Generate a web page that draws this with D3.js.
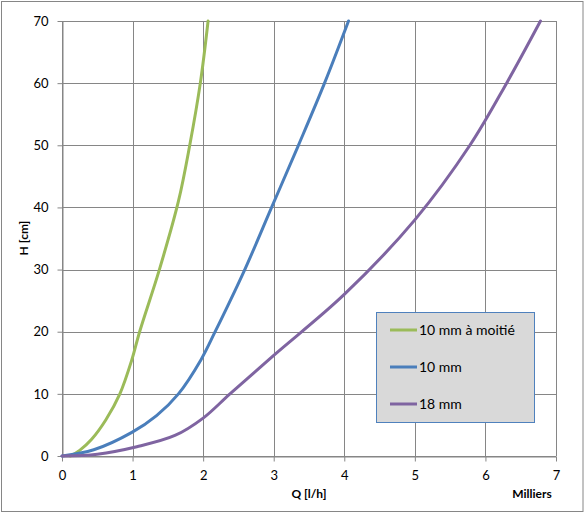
<!DOCTYPE html>
<html>
<head>
<meta charset="utf-8">
<script src="https://cdn.jsdelivr.net/npm/d3@7"></script>
<style>
  body { margin: 0; background: #fff; }
  text { font-family: Lato, "Open Sans", sans-serif; fill: #000; }
</style>
</head>
<body>
<div class="chart"></div>
<script>
// Q in milliers de l/h, H in cm
var seriesNames = ['10 mm à moitié', '10 mm', '18 mm'];
var seriesColors = ['#9bbb59', '#4a7ebb', '#7f64a1'];

var halfQ = [0.12, 0.25, 0.42, 0.62, 0.82, 0.99, 1.1, 1.38, 1.65, 1.81, 1.96, 2.07];
var halfH = [0, 0.9, 2.7, 5.8, 10, 15.5, 20, 30, 41, 50, 60, 70];

var tenQ = [0, 0.45, 0.99, 1.34, 1.65, 1.97, 2.17, 2.59, 2.97, 3.35, 3.72, 4.06];
var tenH = [0, 1, 3.8, 6.5, 10, 15.5, 20, 30, 40, 50, 60, 70];

var eighteenQ = [0, 0.5, 1.06, 1.6, 2.0, 2.38, 3.0, 4.0, 5.0, 5.78, 6.3, 6.78];
var eighteenH = [0, 0.3, 1.5, 3.3, 6.1, 10, 16.2, 26, 38, 50, 60, 70];

var xTicks = [0, 1, 2, 3, 4, 5, 6, 7];
var yTicks = [0, 10, 20, 30, 40, 50, 60, 70];

var width = 588, height = 514;
var plot = { left: 62, right: 556, top: 21, bottom: 456 };

var svg = d3.select('.chart').append('svg')
  .attr('width', width)
  .attr('height', height);

// outer frame
svg.append('rect')
  .attr('x', 1.5).attr('y', 1.5)
  .attr('width', 581.5).attr('height', 510)
  .attr('fill', '#fff')
  .attr('stroke', '#868686');

var x = d3.scaleLinear().domain([0, 7]).range([plot.left, plot.right]);
var y = d3.scaleLinear().domain([0, 70]).range([plot.bottom, plot.top]);

// grid
svg.append('g').selectAll('line').data(xTicks).join('line')
  .attr('x1', d => Math.round(x(d)) + 0.5).attr('x2', d => Math.round(x(d)) + 0.5)
  .attr('y1', plot.top).attr('y2', plot.bottom)
  .attr('stroke', '#868686');
svg.append('g').selectAll('line').data(yTicks).join('line')
  .attr('x1', plot.left).attr('x2', plot.right)
  .attr('y1', d => Math.round(y(d)) + 0.5).attr('y2', d => Math.round(y(d)) + 0.5)
  .attr('stroke', '#868686');

// axes
var xAxis = svg.append('g')
  .attr('transform', 'translate(0,' + (plot.bottom + 0.5) + ')')
  .call(d3.axisBottom(x).tickValues(xTicks).tickFormat(d3.format('d'))
    .tickSize(5).tickPadding(9).tickSizeOuter(0));
var yAxis = svg.append('g')
  .attr('transform', 'translate(' + (plot.left + 0.5) + ',0)')
  .call(d3.axisLeft(y).tickValues(yTicks).tickFormat(d3.format('d'))
    .tickSize(5).tickPadding(9).tickSizeOuter(0));
[xAxis, yAxis].forEach(function(a) {
  a.select('.domain').attr('stroke', '#868686');
  a.selectAll('.tick line').attr('stroke', '#868686');
  a.selectAll('.tick text').style('font-size', '13px').attr('fill', '#000');
});

// titles
svg.append('text')
  .attr('transform', 'translate(28,238) rotate(-90)')
  .attr('text-anchor', 'middle')
  .style('font-size', '12px').style('font-weight', 'bold')
  .text('H [cm]');
svg.append('text')
  .attr('x', 309).attr('y', 498)
  .attr('text-anchor', 'middle')
  .style('font-size', '12px').style('font-weight', 'bold')
  .text('Q [l/h]');
svg.append('text')
  .attr('x', 532).attr('y', 498)
  .attr('text-anchor', 'middle')
  .style('font-size', '12px').style('font-weight', 'bold')
  .text('Milliers');

// curves
var line = d3.line()
  .x(d => x(d[0]))
  .y(d => y(d[1]))
  .curve(d3.curveCatmullRom.alpha(0.5));

var series = [
  d3.zip(halfQ, halfH),
  d3.zip(tenQ, tenH),
  d3.zip(eighteenQ, eighteenH)
];

svg.append('g').selectAll('path').data(series).join('path')
  .attr('d', line)
  .attr('fill', 'none')
  .attr('stroke', (d, i) => seriesColors[i])
  .attr('stroke-width', 3)
  .attr('stroke-linejoin', 'round')
  .attr('stroke-linecap', 'round');

// legend
var legend = svg.append('g');
legend.append('rect')
  .attr('x', 376.5).attr('y', 312.5)
  .attr('width', 158).attr('height', 110)
  .attr('fill', '#d9d9d9')
  .attr('stroke', '#4f81bd');

var items = legend.selectAll('g.item').data(seriesNames).join('g')
  .attr('class', 'item')
  .attr('transform', (d, i) => 'translate(0,' + (330 + i * 37) + ')');
items.append('line')
  .attr('x1', 390).attr('x2', 417)
  .attr('stroke', (d, i) => seriesColors[i])
  .attr('stroke-width', 3);
items.append('text')
  .attr('x', 419).attr('y', 5)
  .style('font-size', '14px')
  .text(d => d);
</script>
</body>
</html>
